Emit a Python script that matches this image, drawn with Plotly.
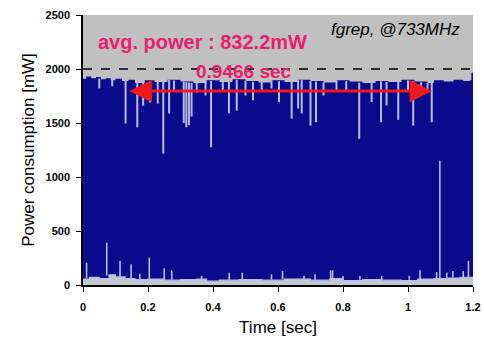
import numpy as np
import plotly.graph_objects as go

# ---- data ----
# upper envelope of the power trace (mW)
top_t = [0.00, 0.01, 0.025, 0.04, 0.055, 0.07, 0.085, 0.10, 0.12, 0.14, 0.16, 0.19, 0.22, 0.26,
         0.30, 0.34, 0.38, 0.42, 0.46, 0.50, 0.54, 0.58, 0.62, 0.66, 0.70, 0.74, 0.78, 0.82,
         0.86, 0.90, 0.94, 0.98, 1.02, 1.06, 1.08, 1.11, 1.14, 1.17, 1.19, 1.195, 1.2]
top_v = [1910, 1930, 1915, 1925, 1905, 1915, 1895, 1910, 1890, 1900, 1870, 1895, 1880, 1900,
         1885, 1870, 1895, 1880, 1905, 1890, 1875, 1895, 1880, 1900, 1890, 1875, 1895, 1885,
         1870, 1890, 1880, 1900, 1885, 1870, 1895, 1885, 1900, 1890, 1895, 1965, 1890]

# downward dips from the top level (time s, lowest value mW)
dip_t = [0.05, 0.09, 0.131, 0.167, 0.185, 0.206, 0.23, 0.247, 0.265, 0.28, 0.31, 0.318, 0.326,
         0.334, 0.35, 0.377, 0.394, 0.43, 0.449, 0.473, 0.50, 0.523, 0.55, 0.58, 0.603, 0.642,
         0.662, 0.673, 0.70, 0.717, 0.74, 0.78, 0.81, 0.85, 0.888, 0.917, 0.934, 0.97, 1.0,
         1.016, 1.04, 1.06, 1.073]
dip_v = [1820, 1840, 1495, 1460, 1660, 1690, 1680, 1216, 1588, 1800, 1500, 1460, 1480,
         1560, 1780, 1755, 1275, 1790, 1590, 1615, 1755, 1710, 1800, 1820, 1693, 1540,
         1634, 1588, 1476, 1507, 1755, 1790, 1800, 1353, 1693, 1507, 1662, 1529, 1800,
         1476, 1830, 1780, 1507]

# idle baseline near the bottom (mW)
base_t = [0.00, 0.02, 0.05, 0.08, 0.10, 0.13, 0.16, 0.20, 0.25, 0.30, 0.35, 0.38, 0.42, 0.48,
          0.55, 0.62, 0.70, 0.76, 0.80, 0.86, 0.92, 0.98, 1.03, 1.08, 1.12, 1.16, 1.2]
base_v = [55, 70, 60, 95, 75, 60, 50, 55, 45, 50, 55, 35, 45, 50,
          45, 55, 45, 60, 40, 50, 45, 40, 55, 60, 65, 70, 60]

# upward spikes from the baseline (time s, peak value mW)
spk_t = [0.011, 0.073, 0.114, 0.148, 0.175, 0.204, 0.25, 0.273, 0.365, 0.45, 0.49, 0.58,
         0.614, 0.68, 0.714, 0.762, 0.768, 0.80, 0.852, 0.919, 1.004, 1.037, 1.088, 1.098,
         1.119, 1.138, 1.17, 1.186]
spk_v = [207, 393, 223, 192, 105, 253, 155, 136, 84, 114, 114, 99,
         130, 84, 99, 136, 136, 84, 84, 84, 84, 136, 120, 1151,
         114, 130, 130, 223]

avg_label = "avg. power : 832.2mW"
dur_label = "0.9466 sec"
run_label = "fgrep, @733MHz"
arrow_t = [0.138, 1.074]
arrow_v = 1796
limit_v = 2000

x_ticks = [0, 0.2, 0.4, 0.6, 0.8, 1, 1.2]
x_tick_text = ["0", "0.2", "0.4", "0.6", "0.8", "1", "1.2"]
y_ticks = [0, 500, 1000, 1500, 2000, 2500]

NAVY = "#0a0a8c"
LAV = "#b8bce8"
GRAY = "#c0c0c0"
PINK = "#e8206e"
FONT = "Liberation Sans, Arial, sans-serif"

fig = go.Figure()

# dark blue body of the trace
fig.add_trace(go.Scatter(x=top_t, y=top_v, mode="lines", line=dict(width=0, shape="hv"),
                         fill="tozeroy", fillcolor=NAVY, hoverinfo="skip"))

# dips
dip_top = np.interp(dip_t, top_t, top_v)
dx, dy = [], []
for t, lo, hi in zip(dip_t, dip_v, dip_top):
    dx += [t, t, None]
    dy += [hi, lo, None]
fig.add_trace(go.Scatter(x=dx, y=dy, mode="lines", line=dict(color=LAV, width=2),
                         hoverinfo="skip"))

# baseline
fig.add_trace(go.Scatter(x=base_t, y=base_v, mode="lines", line=dict(width=1.2, color=LAV, shape="hv"),
                         fill="tozeroy", fillcolor="#c6c6d0", hoverinfo="skip"))

# spikes
spk_base = np.interp(spk_t, base_t, base_v)
sx, sy = [], []
for t, hi, lo in zip(spk_t, spk_v, spk_base):
    sx += [t, t, None]
    sy += [lo, hi, None]
fig.add_trace(go.Scatter(x=sx, y=sy, mode="lines", line=dict(color=LAV, width=1.6),
                         hoverinfo="skip"))

# dashed 2000 mW line
fig.add_shape(type="line", x0=0, x1=1.2, y0=limit_v, y1=limit_v, xref="x", yref="y",
              line=dict(color="black", width=1.4, dash="dash"), layer="above")

# double arrow
fig.add_annotation(x=arrow_t[1], y=arrow_v, ax=arrow_t[0], ay=arrow_v, xref="x", yref="y",
                   axref="x", ayref="y", text="", showarrow=True, arrowhead=2, startarrowhead=2,
                   arrowside="end+start", arrowsize=1.5, startarrowsize=1.5, arrowwidth=3,
                   arrowcolor="#f01818")

fig.add_annotation(x=0.368, y=2250, xref="x", yref="y", text=avg_label, showarrow=False,
                   font=dict(family=FONT, size=20, color=PINK, weight="bold"))
fig.add_annotation(x=0.495, y=1981, xref="x", yref="y", text=dur_label, showarrow=False,
                   font=dict(family=FONT, size=19, color=PINK, weight="bold"))
fig.add_annotation(x=0.96, y=2370, xref="x", yref="y", text=run_label, showarrow=False,
                   font=dict(family=FONT, size=17, color="black", style="italic"))

fig.update_layout(
    width=484, height=345,
    margin=dict(l=83, r=11, t=15, b=60, autoexpand=False),
    paper_bgcolor="white", plot_bgcolor=GRAY,
    showlegend=False,
    font=dict(family=FONT, color="black"),
)
fig.update_xaxes(range=[0, 1.2], tickvals=x_ticks, ticktext=x_tick_text, automargin=False,
                 showgrid=False, zeroline=False, showline=True, linecolor="black", linewidth=1.5,
                 ticks="outside", ticklen=5, tickcolor="black", ticklabelstandoff=6,
                 tickfont=dict(size=11, family=FONT, weight="bold"),
                 title=dict(text="Time [sec]", font=dict(size=17, family=FONT), standoff=9))
fig.update_yaxes(range=[0, 2500], tickvals=y_ticks, automargin=False,
                 showgrid=False, zeroline=False, showline=True, linecolor="black", linewidth=1.5,
                 ticks="outside", ticklen=5, tickcolor="black", ticklabelstandoff=4,
                 tickfont=dict(size=11, family=FONT, weight="bold"),
                 title=dict(text="Power consumption [mW]", font=dict(size=17, family=FONT), standoff=7))

fig.write_html("out.html")
